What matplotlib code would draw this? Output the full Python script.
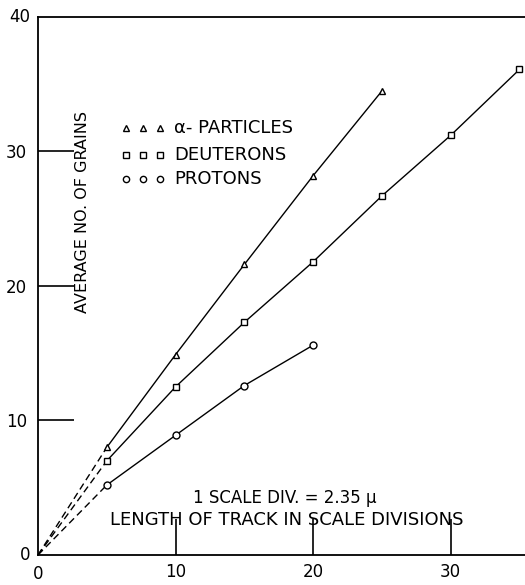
import matplotlib
matplotlib.use("Agg")
import matplotlib.pyplot as plt
import numpy as np

# track length in scale divisions vs average grain count
alpha_x = [5, 10, 15, 20, 25]
alpha_y = [8.0, 14.9, 21.6, 28.2, 34.5]

deut_x = [5, 10, 15, 20, 25, 30, 35]
deut_y = [7.0, 12.5, 17.3, 21.8, 26.7, 31.2, 36.1]

prot_x = [5, 10, 15, 20]
prot_y = [5.2, 8.9, 12.6, 15.6]

xticks = [10, 20, 30]
yticks = [10, 20, 30]

plt.rcParams['font.family'] = ['DejaVu Sans']

fig = plt.figure(figsize=(5.25, 5.85), dpi=100)
ax = fig.add_axes([0.0724, 0.0513, 0.9276, 0.9197])

series = [(alpha_x, alpha_y, '^', 'α- PARTICLES'),
          (deut_x, deut_y, 's', 'DEUTERONS'),
          (prot_x, prot_y, 'o', 'PROTONS')]

for xs, ys, mk, name in series:
    # dashed extrapolation back to the origin
    ax.plot([0, xs[0]], [0, ys[0]], color='black', lw=1.0, ls=(0, (5, 3)))
    ax.plot(xs, ys, color='black', lw=1.0, marker=mk, ms=5,
            mfc='white', mec='black', mew=1.0)

# hand-drawn style key in the upper left
key_y = [31.75, 29.75, 27.95]
for (xs, ys, mk, name), ky in zip(series, key_y):
    ax.plot([6.4, 7.6, 8.9], [ky] * 3, ls='none', marker=mk, ms=4.5,
            mfc='white', mec='black', mew=1.0)
    ax.text(9.9, ky, name, fontsize=13, va='center', ha='left')

ax.set_xlim(0, 35.4)
ax.set_ylim(0, 40)

ax.spines['right'].set_visible(False)
for s in ['left', 'bottom', 'top']:
    ax.spines[s].set_linewidth(1.3)

ax.set_xticks(xticks)
ax.set_yticks(yticks)
ax.tick_params(direction='in', length=26, width=1.2, labelsize=12)
ax.tick_params(axis='y', pad=8)
ax.tick_params(axis='x', pad=6)
ax.set_xticklabels([str(t) for t in xticks])
ax.set_yticklabels([str(t) for t in yticks])

# end labels at the axis corners
ax.text(-0.016, 0, '0', transform=ax.transAxes, fontsize=12,
        ha='right', va='center')
ax.text(-0.016, 1.0, '40', transform=ax.transAxes, fontsize=12,
        ha='right', va='center')
ax.text(0, -0.035, '0', transform=ax.transAxes, fontsize=12,
        ha='center', va='center')

ax.text(3.2, 25.5, 'AVERAGE NO. OF GRAINS', rotation=90, fontsize=11.5,
        ha='center', va='center')
ax.text(17.9, 4.25, '1 SCALE DIV. = 2.35 μ', fontsize=12,
        ha='center', va='center')
ax.text(18.1, 2.6, 'LENGTH OF TRACK IN SCALE DIVISIONS', fontsize=13,
        ha='center', va='center')

fig.savefig('out.png', dpi=100)
